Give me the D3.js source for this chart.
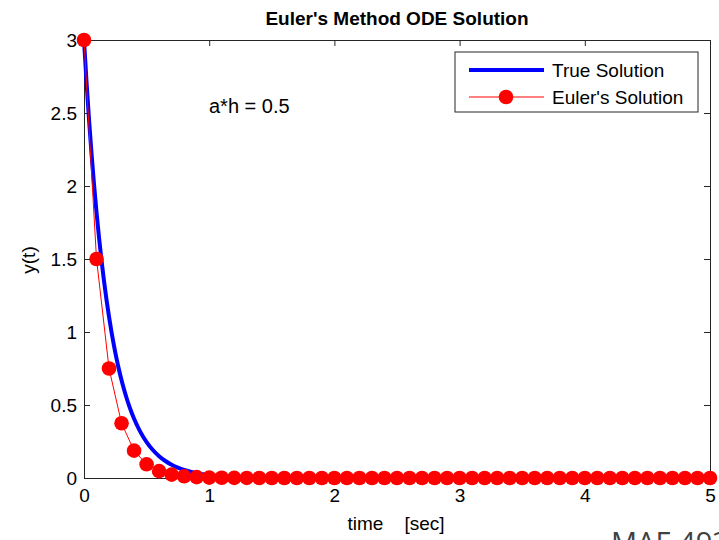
<!DOCTYPE html>
<html><head><meta charset="utf-8">
<script src="https://cdn.jsdelivr.net/npm/d3@7/dist/d3.min.js"></script>
<style>body{margin:0;background:#fff;}svg{display:block;font-family:"Liberation Sans",Arial,sans-serif;}</style>
</head><body>
<script>
const trueT = [0,0.02,0.04,0.06,0.08,0.10,0.12,0.14,0.16,0.18,0.20,0.22,0.24,0.26,0.28,0.30,0.32,0.34,0.36,0.38,0.40,0.45,0.50,0.55,0.60,0.65,0.70,0.75,0.80,0.85,0.90,1.0,1.2,1.5,2,3,4,5];
const trueY = [3,2.7145,2.4562,2.2225,2.0110,1.8196,1.6464,1.4898,1.3480,1.2197,1.1036,0.9986,0.9036,0.8176,0.7398,0.6694,0.6057,0.5481,0.4959,0.4487,0.4060,0.3162,0.2463,0.1918,0.1494,0.1163,0.0906,0.0706,0.0549,0.0428,0.0333,0.0202,0.0074,0.0017,0.0001,0,0,0];
const eulerT = [0,0.1,0.2,0.3,0.4,0.5,0.6,0.7,0.8,0.9,1.0,1.1,1.2,1.3,1.4,1.5,1.6,1.7,1.8,1.9,2.0,2.1,2.2,2.3,2.4,2.5,2.6,2.7,2.8,2.9,3.0,3.1,3.2,3.3,3.4,3.5,3.6,3.7,3.8,3.9,4.0,4.1,4.2,4.3,4.4,4.5,4.6,4.7,4.8,4.9,5.0];
const eulerY = [3,1.5,0.75,0.375,0.1875,0.0938,0.0469,0.0234,0.0117,0.0059,0.0029,0.0015,0.0007,0.0004,0.0002,0.0001,0,0,0,0,0,0,0,0,0,0,0,0,0,0,0,0,0,0,0,0,0,0,0,0,0,0,0,0,0,0,0,0,0,0,0];
const xTicks = [0,1,2,3,4,5];
const yTicks = [0,0.5,1,1.5,2,2.5,3];
const seriesNames = ["True Solution","Euler's Solution"];

const W=719,H=540, L=84, R=710, T=40, B=478;
const FS=19;
const svg=d3.select("body").append("svg").attr("width",W).attr("height",H);
const x=d3.scaleLinear().domain([0,5]).range([L,R]);
const y=d3.scaleLinear().domain([0,3]).range([B,T]);

// axes
const axB=svg.append("g").attr("transform",`translate(0,${B})`).call(d3.axisBottom(x).tickValues(xTicks).tickSize(-6).tickPadding(11).tickFormat(d3.format("d")));
const axT=svg.append("g").attr("transform",`translate(0,${T})`).call(d3.axisTop(x).tickValues(xTicks).tickSize(-6).tickFormat(""));
const axL=svg.append("g").attr("transform",`translate(${L},0)`).call(d3.axisLeft(y).tickValues(yTicks).tickSize(-6).tickPadding(7).tickFormat(d=>d));
const axR=svg.append("g").attr("transform",`translate(${R},0)`).call(d3.axisRight(y).tickValues(yTicks).tickSize(-6).tickFormat(""));
[axB,axT,axL,axR].forEach(g=>{g.select(".domain").attr("stroke","#262626");g.selectAll(".tick line").attr("stroke","#262626");g.selectAll("text").attr("font-size",FS).attr("fill","#000").attr("font-family","Liberation Sans, Arial, sans-serif");});

// true solution
svg.append("path").datum(trueT.map((t,i)=>[t,trueY[i]]))
  .attr("d",d3.line().x(d=>x(d[0])).y(d=>y(d[1])).curve(d3.curveMonotoneX))
  .attr("fill","none").attr("stroke","#0000ff").attr("stroke-width",4);
// euler
const ed=eulerT.map((t,i)=>[t,eulerY[i]]);
svg.append("path").datum(ed).attr("d",d3.line().x(d=>x(d[0])).y(d=>y(d[1])))
  .attr("fill","none").attr("stroke","#ff0000").attr("stroke-width",1);
svg.append("g").selectAll("circle").data(ed).join("circle")
  .attr("cx",d=>x(d[0])).attr("cy",d=>y(d[1])).attr("r",7.3).attr("fill","#ff0000");

// title & labels
svg.append("text").attr("x",397).attr("y",25).attr("text-anchor","middle").attr("font-size",19).attr("font-weight","bold").text("Euler's Method ODE Solution");
svg.append("text").attr("x",209).attr("y",113).attr("font-size",20).text("a*h = 0.5");
svg.append("text").attr("transform","translate(35,260) rotate(-90)").attr("text-anchor","middle").attr("font-size",FS).text("y(t)");
svg.append("text").attr("x",396).attr("y",530).attr("text-anchor","middle").attr("font-size",FS).attr("xml:space","preserve").style("white-space","pre").text("time    [sec]");
svg.append("text").attr("x",611).attr("y",553).attr("font-size",29).attr("fill","#404040").attr("font-family","Open Sans, sans-serif").text("MAE 493");

// legend
const lg=svg.append("g");
lg.append("rect").attr("x",455).attr("y",52).attr("width",243).attr("height",60).attr("fill","#fff").attr("stroke","#262626").attr("stroke-width",1);
lg.append("line").attr("x1",469).attr("x2",544).attr("y1",70).attr("y2",70).attr("stroke","#0000ff").attr("stroke-width",4);
lg.append("line").attr("x1",469).attr("x2",544).attr("y1",97).attr("y2",97).attr("stroke","#ff0000").attr("stroke-width",1);
lg.append("circle").attr("cx",506).attr("cy",97).attr("r",7.3).attr("fill","#ff0000");
lg.selectAll("text.l").data(seriesNames).join("text").attr("x",552).attr("y",(d,i)=>77+i*27).attr("font-size",FS).text(d=>d);
</script>
</body></html>
